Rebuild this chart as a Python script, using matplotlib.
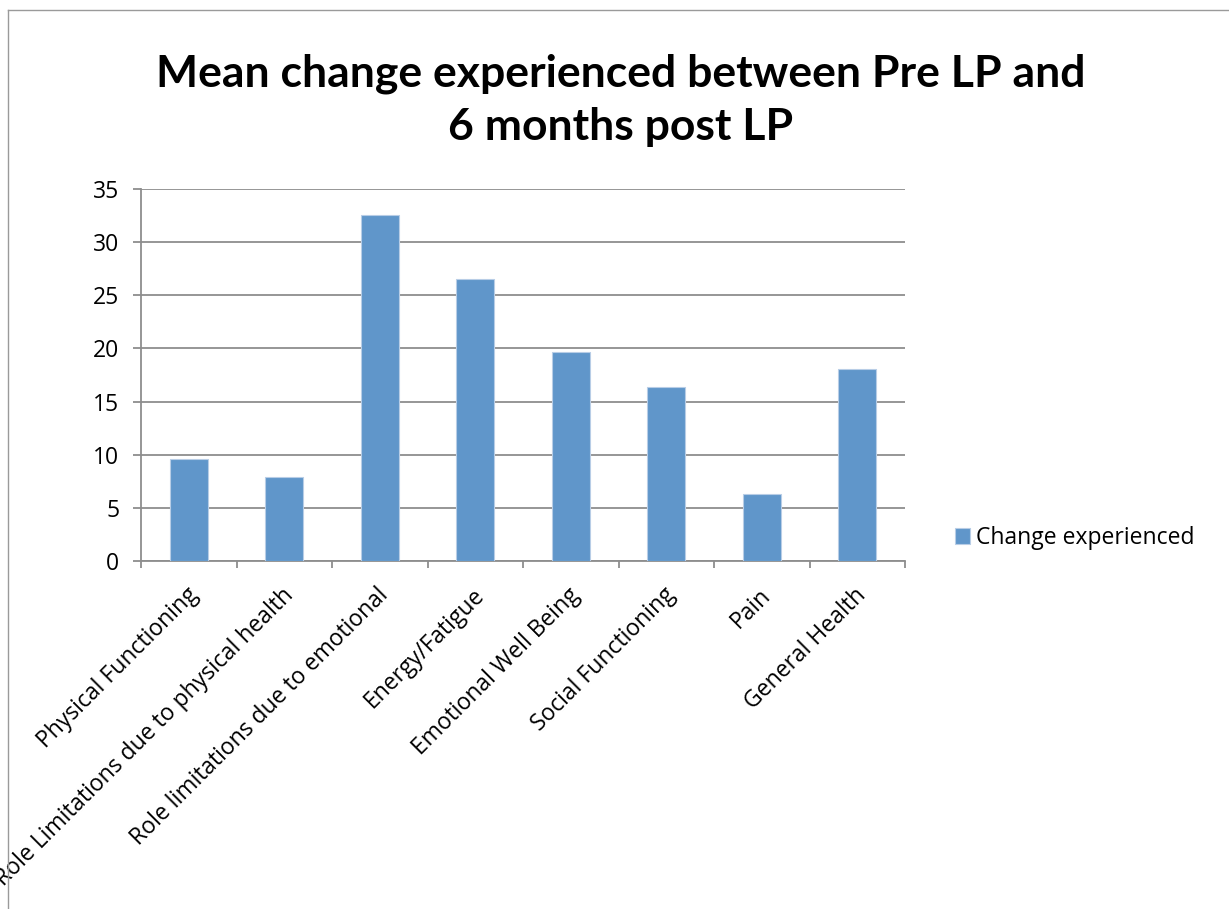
import matplotlib
matplotlib.use("Agg")
import matplotlib.pyplot as plt
from matplotlib.lines import Line2D
from matplotlib.transforms import ScaledTranslation

categories = [
    "Physical Functioning",
    "Role Limitations due to physical health",
    "Role limitations due to emotional",
    "Energy/Fatigue",
    "Emotional Well Being",
    "Social Functioning",
    "Pain",
    "General Health",
]
change_experienced = [9.6, 7.9, 32.6, 26.5, 19.7, 16.4, 6.35, 18.1]
y_ticks = [0, 5, 10, 15, 20, 25, 30, 35]

TITLE = "Mean change experienced between Pre LP and\n6 months post LP"
SERIES = "Change experienced"
BAR_COLOR = "#6096CA"
GRID_COLOR = "#8E8E8E"

plt.rcParams["font.family"] = ["Open Sans", "DejaVu Sans"]

W, H = 1229, 909
fig = plt.figure(figsize=(W / 100, H / 100), dpi=100)
ax = fig.add_axes([141 / W, 1 - 561 / H, (905 - 141) / W, (561 - 189) / H])

x = range(len(categories))
ax.bar(x, change_experienced, width=0.4, color=BAR_COLOR,
       edgecolor="#B8CDE6", linewidth=0.8, label=SERIES, zorder=3)

ax.set_xlim(-0.5, len(categories) - 0.5)
ax.set_ylim(0, 35)
ax.set_yticks(y_ticks)
ax.yaxis.grid(True, color=GRID_COLOR, linewidth=1.3, zorder=0)
ax.tick_params(axis="y", length=6, width=1.3, color=GRID_COLOR,
               labelsize=16.5, pad=9.5)

# category labels centred, boundary ticks as minor ticks
ax.set_xticks(list(x))
ax.set_xticks([i - 0.5 for i in range(len(categories) + 1)], minor=True)
ax.set_xticklabels(categories, rotation=45, ha="right", va="center",
                   rotation_mode="anchor", fontsize=16.5)
ax.tick_params(axis="x", which="major", length=0, pad=22)
ax.tick_params(axis="x", which="minor", length=5, width=1.3, color=GRID_COLOR)
shift = ScaledTranslation(4 / 72, 0, fig.dpi_scale_trans)
for lab in ax.get_xticklabels():
    lab.set_transform(lab.get_transform() + shift)

for side in ("top", "right"):
    ax.spines[side].set_visible(False)
for side in ("left", "bottom"):
    ax.spines[side].set_color(GRID_COLOR)
    ax.spines[side].set_linewidth(1.3)

fig.legend(loc="center left", bbox_to_anchor=(934 / W, 1 - 538 / H),
           frameon=False, fontsize=16.5, handlelength=0.65, handleheight=0.65,
           handletextpad=0.3)

fig.text(621 / W, 1 - 100 / H, TITLE, ha="center", va="center",
         fontsize=32, fontweight="bold", linespacing=1.4,
         family=["Lato", "DejaVu Sans"])

# chart-area border (left and top edges visible in the crop)
fig.add_artist(Line2D([7.5 / W, 7.5 / W], [0, 1 - 10 / H],
                      transform=fig.transFigure, color="#9A9A9A", linewidth=1))
fig.add_artist(Line2D([7.5 / W, 1], [1 - 10 / H, 1 - 10 / H],
                      transform=fig.transFigure, color="#9A9A9A", linewidth=1))

fig.savefig("out.png", dpi=100)
